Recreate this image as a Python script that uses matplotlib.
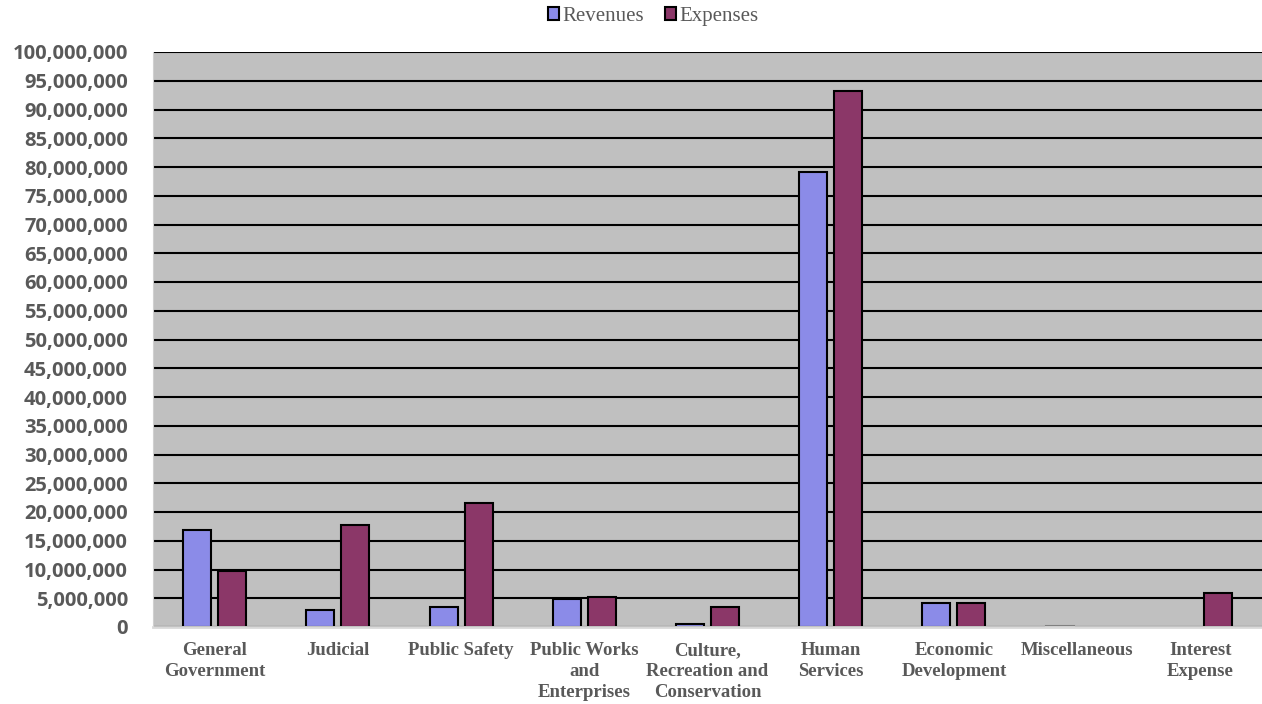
import matplotlib
matplotlib.use("Agg")
import matplotlib.pyplot as plt
import numpy as np
from matplotlib.ticker import FuncFormatter, MultipleLocator

categories = ["General\nGovernment", "Judicial", "Public Safety",
              "Public Works\nand\nEnterprises",
              "Culture,\nRecreation and\nConservation",
              "Human\nServices", "Economic\nDevelopment",
              "Miscellaneous", "Interest\nExpense"]
revenues = [16_900_000, 2_950_000, 3_400_000, 4_900_000, 600_000,
            79_100_000, 4_200_000, 150_000, 0]
expenses = [9_700_000, 17_700_000, 21_600_000, 5_200_000, 3_400_000,
            93_200_000, 4_200_000, 0, 5_900_000]

TEXT = "#595959"

fig = plt.figure(figsize=(12.62, 7.04), dpi=100)
ax = fig.add_axes([153 / 1262, 1 - 627 / 704, 1 - 153 / 1262, 575 / 704])
ax.set_facecolor("#C0C0C0")

x = np.arange(len(categories))
w = 0.227
off = 0.142
rev_bars = ax.bar(x - off, revenues, w, color="#8B8BE8", edgecolor="black",
                  linewidth=1.5, label="Revenues", zorder=3)
exp_bars = ax.bar(x + off, expenses, w, color="#8B3768", edgecolor="black",
                  linewidth=1.5, label="Expenses", zorder=3)
# empty bars get no outline
for bars, vals in ((rev_bars, revenues), (exp_bars, expenses)):
    for b, v in zip(bars, vals):
        if v == 0:
            b.set_linewidth(0)
        elif v < 300_000:
            b.set_edgecolor("#808080")

ax.set_xlim(-0.5, len(categories) - 0.5)
ax.set_ylim(0, 100_000_000)
ax.yaxis.set_major_locator(MultipleLocator(5_000_000))
ax.yaxis.set_major_formatter(FuncFormatter(lambda v, p: f"{int(v):,}"))
ax.grid(axis="y", color="black", linewidth=1.5, zorder=1)
ax.set_axisbelow(True)

for s in ["top", "right"]:
    ax.spines[s].set_visible(False)
ax.spines["left"].set_color("#D0D0D0")
ax.spines["bottom"].set_color("#D9D9D9")
ax.spines["bottom"].set_linewidth(2)
ax.spines["bottom"].set_zorder(4)

ax.tick_params(axis="both", length=0)
ax.tick_params(axis="y", pad=18)
for lab in ax.get_yticklabels():
    lab.set_fontfamily("Open Sans")
    lab.set_fontweight("bold")
    lab.set_fontsize(14.5)
    lab.set_color(TEXT)

ax.set_xticks(x)
ax.set_xticklabels(categories, fontfamily="Liberation Serif", fontweight="bold",
                   fontsize=13.5, color=TEXT, linespacing=1.3)
ax.tick_params(axis="x", pad=11)

leg = fig.legend(loc="upper center", bbox_to_anchor=(0.5175, 1.017), ncol=2,
                 frameon=False, prop={"family": "Liberation Serif", "size": 15},
                 handlelength=0.55, handleheight=0.55, handletextpad=0.15,
                 columnspacing=1.0)
for t in leg.get_texts():
    t.set_color(TEXT)

fig.savefig("out.png", dpi=100)
